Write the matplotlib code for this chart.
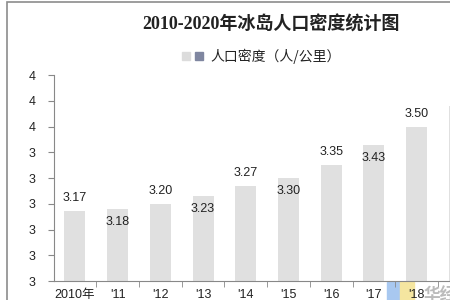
import matplotlib
matplotlib.use("Agg")
from matplotlib import pyplot as plt
from matplotlib.patches import Rectangle

# datos
anios = ["2010年", "'11", "'12", "'13", "'14", "'15", "'16", "'17", "'18", "'19"]
densidad = [3.17, 3.18, 3.20, 3.23, 3.27, 3.30, 3.35, 3.43, 3.50, 3.58]
etiquetas = ["3.17", "3.18", "3.20", "3.23", "3.27", "3.30", "3.35", "3.43", "3.50", "3"]
yticks = [2.9, 3.0, 3.1, 3.2, 3.3, 3.4, 3.5, 3.6, 3.7]
ytick_labels = ["3", "3", "3", "3", "3", "3", "4", "4", "4"]

W, H = 450, 300
fig = plt.figure(figsize=(4.5, 3), dpi=100)
fig.patch.set_facecolor("white")

# marca de agua (detras del eje)
fig.patches.append(Rectangle((387 / W, 0), 13 / W, 18 / H, transform=fig.transFigure,
                             color="#a8c8f0", zorder=-1))
fig.patches.append(Rectangle((400 / W, 0), 14 / W, 18 / H, transform=fig.transFigure,
                             color="#f5e6a0", zorder=-1))

# eje (se extiende fuera de la imagen, como en el original recortado)
ax = fig.add_axes([53.5 / W, 19 / H, 470 / W, 206 / H])
ax.patch.set_alpha(0)
x = list(range(len(densidad)))
ax.bar(x, [d - 2.9 for d in densidad], bottom=2.9, width=0.49, color="#e0e0e0")
ax.set_xlim(-0.5, 10.5)
ax.set_ylim(2.9, 3.7)

for i, (d, t) in enumerate(zip(densidad, etiquetas)):
    off = 13 if i % 2 == 0 else -13
    ax.annotate(t, (i, d), xytext=(0, off * 0.72), textcoords="offset points",
                ha="center", va="center", fontsize=9, color="#222222",
                family="Liberation Sans")

ax.set_yticks(yticks)
ax.set_yticklabels(ytick_labels, family="Liberation Sans", fontsize=9, color="#222222")
ax.set_xticks(x)
ax.set_xticklabels(anios, family=["Liberation Sans", "Noto Sans CJK SC"],
                   fontsize=9, color="#222222")
ax.set_xticks([i + 0.5 for i in x], minor=True)
ax.tick_params(axis="x", which="major", length=0, pad=6)
ax.tick_params(axis="x", which="minor", length=4, color="#888888", direction="out")
ax.tick_params(axis="y", length=4, color="#888888", pad=9)

for s in ["top", "right"]:
    ax.spines[s].set_visible(False)
for s in ["left", "bottom"]:
    ax.spines[s].set_color("#888888")
    ax.spines[s].set_linewidth(0.8)

# titulo y leyenda
fig.text(271 / W, 1 - 25 / H, "2010-2020年冰岛人口密度统计图", ha="center", va="center",
         fontsize=13, fontweight="bold", color="#222222",
         family=["Liberation Serif", "Noto Sans CJK SC"])
fig.patches.append(Rectangle((182 / W, 1 - 60 / H), 8 / W, 8 / H,
                             transform=fig.transFigure, color="#dcdcdc"))
fig.patches.append(Rectangle((195 / W, 1 - 60 / H), 8 / W, 8 / H,
                             transform=fig.transFigure, color="#7f86a0"))
fig.text(210 / W, 1 - 56 / H, "人口密度（人/公里）", ha="left", va="center",
         fontsize=10, color="#222222", family=["Noto Sans CJK SC"])

# marco
fig.patches.append(Rectangle((7 / W, -0.1), 460 / W, 1 - 2 / H + 0.1,
                             transform=fig.transFigure, fill=False,
                             edgecolor="#8c8c8c", linewidth=1.2))

fig.text(424 / W, 5 / H, "华经", fontsize=12, fontweight="bold", color="#bbbbbb",
         family=["Noto Sans CJK SC"], va="center")

fig.savefig("out.png", dpi=100)
